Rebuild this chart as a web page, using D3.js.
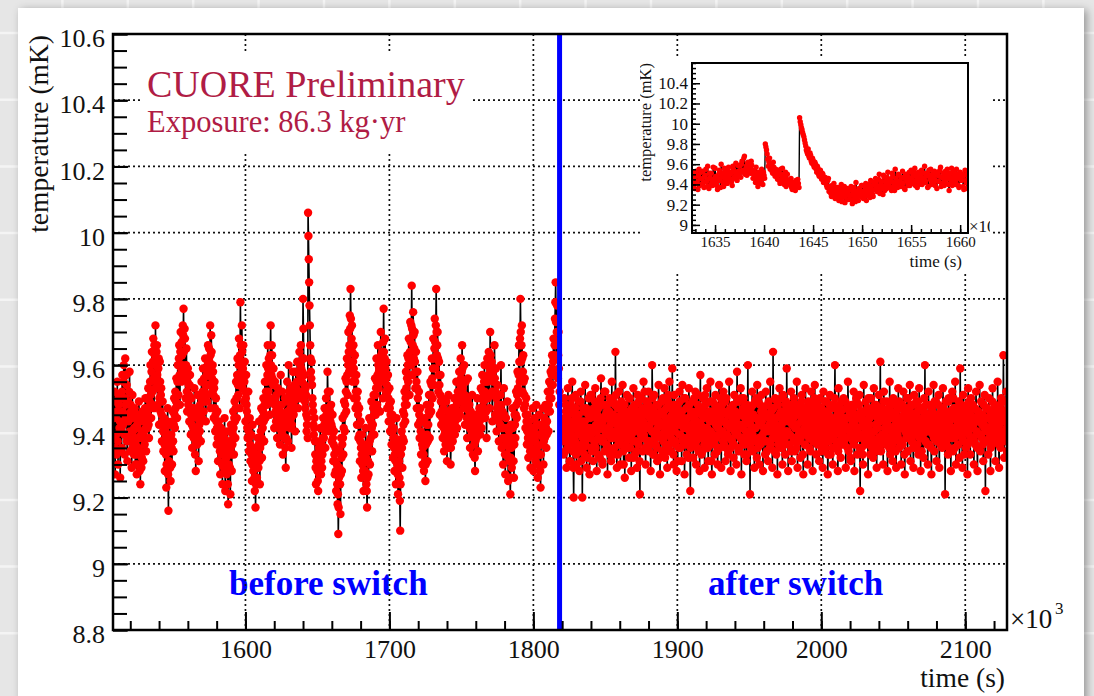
<!DOCTYPE html>
<html>
<head>
<meta charset="utf-8">
<script src="https://cdn.jsdelivr.net/npm/d3@7"></script>
<style>
  html, body { margin: 0; padding: 0; background: #e8e8e8; }
  svg { display: block; }
  text { font-family: "Liberation Serif", "Times New Roman", serif; }
</style>
</head>
<body>
<div id="chart"></div>
<script>
// ---- data (time in 10^3 s, temperature in mK) ----
const xMajorTicks = [1600, 1700, 1800, 1900, 2000, 2100];
const yMajorTicks = [8.8, 9, 9.2, 9.4, 9.6, 9.8, 10, 10.2, 10.4, 10.6];
const insetXTicks = [1635, 1640, 1645, 1650, 1655, 1660];
const insetYTicks = [9, 9.2, 9.4, 9.6, 9.8, 10, 10.2, 10.4];
const switchTime = 1818.2;

// sampling: "A" values sit on the grid, "B" values half a step later
const beforeStart = 1508.5, afterStart = 1820.5, sampleStep = 0.5;
const insetStart = 1632.5, insetStep = 0.125;

// temperature above 9 mK, in units of 0.01 mK
const beforeA = [
  38, 52, 27, 45, 33, 55, 30, 48, 41, 26, 50, 35, 57, 42, 60, 33, 62, 44, 54, 31,
  49, 38, 58, 34, 46, 29, 51, 40, 33, 47, 30, 44, 27, 41, 35, 49, 28, 24, 39, 32,
  46, 31, 43, 36, 50, 34, 47, 41, 53, 38, 49, 60, 44, 64, 52, 68, 47, 63, 72, 55,
  66, 48, 59, 42, 61, 46, 53, 37, 49, 34, 44, 28, 40, 23, 37, 47, 16, 31, 42, 25,
  39, 30, 46, 34, 50, 41, 47, 56, 44, 60, 51, 66, 48, 70, 55, 63, 72, 77, 58, 68,
  50, 65, 46, 59, 54, 43, 57, 39, 50, 35, 47, 38, 53, 33, 28, 45, 36, 51, 31, 42,
  48, 37, 55, 44, 59, 46, 52, 62, 43, 57, 49, 66, 54, 61, 72, 47, 64, 52, 58, 44,
  55, 40, 50, 36, 46, 31, 43, 38, 27, 41, 34, 24, 39, 29, 44, 22, 35, 27, 40, 18,
  30, 37, 21, 42, 28, 36, 46, 33, 49, 38, 55, 44, 62, 51, 68, 47, 79, 58, 72, 53,
  66, 49, 61, 43, 57, 46, 38, 52, 34, 44, 31, 39, 25, 42, 28, 35, 22, 17, 33, 26,
  38, 29, 43, 24, 36, 47, 32, 41, 50, 37, 55, 44, 60, 48, 66, 52, 58, 45, 72, 57,
  63, 49, 59, 41, 55, 46, 51, 38, 53, 42, 48, 36, 57, 40, 52, 33, 45, 38, 50, 29,
  43, 55, 37, 60, 46, 41, 53, 35, 49, 58, 45, 54, 40, 58, 50, 61, 47, 55, 64, 52,
  66, 50, 58, 80, 62, 54, 47, 51, 40, 44, 106, 92, 78, 66, 58, 61, 50, 46, 39, 44,
  33, 24, 37, 28, 22, 35, 30, 41, 27, 36, 33, 44, 38, 47, 35, 50, 42, 58, 45, 40,
  52, 43, 48, 37, 45, 31, 40, 27, 35, 22, 30, 18, 9, 26, 34, 15, 38, 28, 44, 33,
  49, 40, 56, 46, 62, 51, 70, 58, 75, 83, 61, 72, 55, 66, 50, 63, 47, 57, 42, 52,
  38, 47, 31, 43, 26, 39, 33, 22, 36, 28, 41, 24, 17, 35, 27, 44, 30, 38, 49, 34,
  42, 51, 39, 56, 45, 62, 48, 66, 53, 59, 46, 70, 55, 64, 50, 77, 58, 68, 52, 61,
  47, 57, 43, 53, 40, 49, 36, 45, 32, 41, 28, 38, 24, 44, 30, 21, 35, 26, 10, 33,
  40, 29, 46, 37, 52, 43, 58, 48, 63, 55, 68, 51, 73, 60, 84, 57, 76, 62, 70, 53,
  64, 47, 58, 42, 52, 38, 47, 33, 43, 30, 39, 28, 44, 25, 36, 48, 31, 42, 51, 38,
  55, 46, 62, 50, 68, 54, 74, 59, 83, 63, 70, 52, 61, 45, 57, 42, 50, 38, 47, 34,
  44, 36, 49, 31, 42, 51, 35, 45, 30, 40, 47, 37, 43, 50, 39, 46, 55, 41, 52, 44,
  58, 45, 62, 49, 66, 53, 47, 60, 42, 55, 50, 38, 56, 44, 48, 35, 46, 40, 51, 33,
  42, 36, 28, 45, 38, 50, 34, 43, 47, 39, 53, 41, 57, 46, 49, 60, 44, 55, 38, 62,
  50, 64, 47, 70, 56, 61, 43, 58, 52, 66, 45, 59, 40, 54, 48, 37, 51, 42, 60, 35,
  46, 30, 53, 38, 27, 44, 33, 49, 25, 40, 31, 21, 42, 29, 47, 36, 26, 45, 38, 52,
  44, 58, 49, 66, 55, 80, 61, 72, 52, 63, 47, 56, 41, 50, 36, 45, 32, 43, 39, 29,
  41, 34, 47, 28, 38, 44, 31, 48, 35, 26, 39, 45, 33, 23, 42, 36, 47, 30, 44, 38,
  48, 35, 43, 52, 40, 55, 46, 58, 50, 63, 54, 68, 57, 74, 85, 62, 78, 56, 70, 48
];
const beforeB = [
  44, 35, 49, 39, 46, 37, 51, 34, 43, 40, 41, 52, 46, 55, 39, 50, 48, 57, 37, 45,
  43, 52, 40, 48, 37, 44, 35, 46, 41, 38, 36, 33, 42, 30, 45, 38, 34, 43, 29, 40,
  38, 45, 40, 47, 41, 44, 50, 45, 42, 47, 55, 51, 58, 48, 61, 56, 66, 53, 60, 64,
  57, 53, 62, 50, 55, 51, 45, 43, 40, 42, 36, 39, 33, 30, 43, 27, 35, 38, 29, 34,
  35, 43, 37, 42, 45, 52, 49, 51, 55, 48, 62, 57, 64, 59, 67, 60, 69, 64, 71, 56,
  60, 52, 55, 48, 51, 54, 47, 45, 42, 44, 41, 47, 40, 36, 39, 41, 44, 38, 46, 40,
  43, 50, 46, 52, 50, 56, 49, 54, 59, 51, 60, 57, 65, 58, 63, 69, 56, 60, 51, 53,
  47, 45, 43, 41, 38, 40, 36, 34, 37, 33, 30, 36, 33, 38, 31, 28, 32, 34, 24, 29,
  34, 29, 35, 33, 40, 39, 41, 44, 43, 47, 50, 57, 54, 60, 56, 63, 66, 61, 64, 59,
  57, 55, 52, 50, 48, 41, 44, 40, 38, 36, 35, 33, 30, 34, 31, 26, 29, 24, 30, 32,
  33, 36, 31, 35, 40, 38, 44, 46, 43, 48, 50, 52, 55, 57, 59, 62, 50, 63, 60, 66,
  56, 54, 50, 48, 50, 43, 45, 48, 46, 45, 41, 46, 44, 48, 39, 42, 41, 44, 35, 38,
  49, 46, 50, 52, 44, 47, 44, 42, 53, 51, 49, 47, 51, 53, 55, 52, 58, 50, 57, 60,
  59, 55, 62, 71, 57, 49, 53, 45, 42, 38, 99, 85, 72, 62, 56, 54, 48, 42, 41, 37,
  29, 31, 32, 25, 30, 27, 34, 33, 31, 29, 38, 41, 42, 40, 44, 45, 47, 52, 43, 47,
  46, 45, 42, 41, 38, 36, 33, 31, 28, 27, 24, 21, 17, 29, 24, 27, 32, 36, 38, 41,
  45, 48, 52, 55, 57, 60, 64, 66, 71, 74, 68, 64, 61, 59, 57, 55, 52, 50, 48, 45,
  42, 39, 37, 35, 33, 30, 28, 31, 32, 34, 32, 22, 26, 31, 36, 37, 34, 43, 41, 39,
  47, 45, 48, 51, 53, 55, 57, 60, 58, 62, 57, 63, 60, 58, 67, 64, 62, 59, 56, 54,
  52, 50, 48, 47, 45, 43, 41, 40, 38, 35, 33, 31, 34, 36, 27, 29, 31, 19, 24, 37,
  35, 38, 42, 45, 48, 50, 53, 56, 60, 62, 60, 64, 67, 72, 71, 66, 69, 65, 61, 58,
  55, 53, 50, 47, 45, 43, 40, 38, 36, 35, 33, 36, 31, 30, 42, 39, 37, 46, 45, 48,
  51, 54, 56, 59, 62, 65, 67, 72, 70, 66, 62, 57, 54, 51, 49, 46, 44, 43, 41, 39,
  40, 43, 39, 37, 46, 43, 40, 38, 35, 44, 42, 40, 47, 45, 43, 50, 48, 46, 49, 51,
  52, 54, 56, 58, 59, 50, 55, 51, 49, 47, 44, 47, 50, 46, 41, 42, 43, 45, 42, 38,
  39, 32, 37, 41, 44, 42, 39, 45, 43, 46, 47, 50, 52, 47, 55, 52, 50, 46, 51, 55,
  57, 56, 59, 63, 60, 52, 51, 55, 59, 56, 52, 50, 47, 51, 43, 44, 46, 51, 48, 41,
  38, 41, 45, 33, 36, 38, 41, 37, 32, 35, 26, 32, 35, 38, 41, 31, 36, 42, 45, 48,
  51, 53, 57, 61, 68, 70, 66, 62, 58, 55, 51, 48, 45, 43, 40, 38, 37, 41, 34, 35,
  37, 40, 38, 33, 41, 37, 39, 42, 30, 33, 42, 39, 28, 33, 39, 41, 38, 37, 41, 43,
  41, 39, 47, 46, 48, 50, 52, 54, 57, 59, 61, 63, 66, 79, 73, 70, 67, 63, 59, 52
];

const afterA = [
  42, 33, 50, 38, 46, 29, 44, 53, 36, 41, 31, 48, 39, 55, 34, 20, 45, 37, 51, 30,
  43, 35, 49, 28, 40, 52, 36, 20, 47, 39, 33, 54, 41, 29, 46, 38, 50, 27, 44, 35,
  51, 40, 31, 47, 36, 53, 42, 28, 45, 38, 49, 32, 43, 56, 37, 30, 48, 41, 34, 52,
  39, 46, 27, 44, 35, 50, 42, 31, 55, 38, 45, 33, 48, 64, 40, 29, 47, 36, 52, 43,
  30, 49, 38, 54, 34, 42, 26, 46, 39, 51, 35, 44, 32, 50, 41, 28, 47, 37, 53, 40,
  33, 48, 43, 29, 51, 36, 45, 21, 39, 50, 42, 34, 55, 38, 46, 30, 49, 41, 35, 52,
  37, 44, 28, 47, 60, 40, 33, 51, 43, 36, 48, 31, 45, 54, 39, 27, 46, 42, 34, 50,
  38, 53, 32, 44, 41, 29, 49, 36, 55, 40, 34, 47, 59, 43, 30, 51, 37, 45, 28, 48,
  42, 35, 52, 39, 46, 31, 54, 38, 44, 27, 50, 41, 33, 47, 36, 53, 40, 22, 45, 37,
  49, 32, 44, 39, 52, 30, 46, 35, 51, 42, 28, 57, 38, 45, 34, 50, 41, 29, 48, 36,
  53, 40, 31, 46, 43, 55, 37, 27, 49, 39, 44, 33, 51, 38, 47, 30, 42, 54, 35, 45,
  29, 48, 40, 52, 36, 43, 31, 50, 39, 46, 34, 55, 41, 28, 47, 37, 44, 32, 51, 40,
  45, 30, 58, 39, 49, 35, 42, 53, 27, 46, 38, 50, 33, 44, 40, 31, 48, 60, 43, 36,
  21, 47, 39, 52, 34, 45, 29, 49, 41, 37, 54, 35, 43, 30, 48, 38, 51, 44, 28, 46,
  40, 33, 52, 37, 45, 31, 49, 42, 55, 36, 47, 29, 64, 41, 34, 50, 38, 44, 27, 48,
  39, 53, 35, 46, 42, 30, 51, 37, 45, 33, 49, 59, 40, 28, 47, 36, 43, 52, 31, 44,
  38, 50, 34, 46, 41, 55, 29, 45, 37, 48, 32, 43, 51, 39, 27, 47, 36, 53, 40, 44,
  30, 49, 38, 45, 34, 52, 42, 28, 46, 37, 54, 41, 33, 48, 39, 44, 31, 50, 36, 47,
  43, 29, 52, 38, 46, 35, 49, 40, 27, 45, 37, 51, 33, 44, 41, 30, 48, 39, 60, 42,
  35, 47, 28, 53, 40, 45, 32, 49, 38, 43, 50, 36, 44, 29, 47, 41, 55, 34, 46, 39,
  31, 48, 42, 37, 52, 28, 45, 40, 49, 33, 44, 38, 51, 22, 46, 35, 43, 30, 54, 41,
  36, 49, 39, 47, 27, 45, 42, 33, 50, 38, 46, 32, 53, 40, 35, 48, 29, 44, 37, 51,
  43, 61, 34, 47, 39, 30, 52, 41, 45, 36, 49, 28, 44, 38, 55, 33, 46, 40, 31, 50,
  37, 45, 42, 29, 48, 39, 53, 35, 44, 41, 30, 47, 36, 52, 43, 27, 46, 38, 50, 34,
  45, 40, 54, 31, 48, 37, 44, 29, 51, 42, 35, 49, 39, 46, 33, 53, 41, 28, 47, 38,
  44, 32, 50, 60, 37, 45, 40, 30, 52, 36, 48, 41, 27, 46, 39, 54, 34, 43, 49, 31,
  42, 37, 51, 29, 45, 40, 47, 35, 53, 38, 44, 21, 49, 36, 42, 33, 50, 39, 46, 28,
  41, 52, 34, 47, 38, 55, 30, 45, 43, 36, 49, 32, 59, 40, 46, 29, 51, 37, 44, 42,
  35, 48, 27, 53, 39, 45, 33, 50, 41, 38, 47, 30, 44, 36, 52, 40, 28, 46, 43, 54,
  34, 49, 38, 45, 31, 42, 51, 22, 47, 37, 44, 33, 50, 40, 28, 46, 36, 53, 42, 39,
  48, 31, 45, 37, 55, 41, 29, 47, 35, 50, 43, 38, 63, 32, 46, 40, 52, 34, 44, 39
];
const afterB = [
  37, 44, 40, 34, 48, 39, 35, 45, 42, 31, 46, 38, 50, 43, 29, 36, 41, 47, 33, 44,
  39, 45, 34, 42, 49, 31, 43, 38, 35, 46, 43, 36, 47, 40, 32, 45, 38, 41, 51, 39,
  34, 46, 41, 37, 49, 35, 44, 40, 33, 47, 42, 38, 50, 44, 31, 43, 37, 52, 40, 45,
  36, 48, 39, 41, 46, 33, 38, 45, 43, 49, 40, 35, 44, 51, 38, 42, 33, 47, 41, 36,
  45, 39, 43, 47, 30, 48, 40, 36, 44, 42, 38, 50, 41, 35, 46, 39, 43, 32, 45, 48,
  41, 37, 34, 46, 42, 49, 31, 44, 40, 38, 47, 43, 39, 52, 35, 41, 45, 37, 48, 34,
  42, 36, 45, 40, 50, 33, 46, 39, 38, 44, 35, 41, 48, 43, 32, 45, 38, 49, 42, 37,
  46, 40, 36, 47, 34, 43, 51, 39, 44, 41, 38, 45, 42, 33, 48, 40, 36, 47, 43, 31,
  44, 39, 49, 35, 42, 46, 37, 41, 50, 36, 43, 47, 38, 44, 32, 48, 40, 35, 46, 42,
  39, 36, 50, 41, 45, 37, 43, 48, 34, 40, 46, 42, 33, 47, 39, 44, 36, 51, 38, 45,
  41, 35, 44, 38, 49, 40, 31, 46, 43, 37, 36, 48, 42, 45, 34, 41, 47, 39, 44, 50,
  40, 43, 37, 46, 39, 49, 35, 42, 45, 33, 45, 38, 47, 35, 43, 41, 48, 36, 40, 46,
  39, 44, 49, 42, 34, 45, 38, 50, 41, 37, 47, 42, 36, 48, 44, 33, 46, 40, 38, 43,
  42, 35, 45, 39, 48, 41, 37, 44, 50, 32, 44, 49, 38, 42, 36, 46, 43, 39, 47, 41,
  37, 45, 41, 34, 48, 40, 44, 35, 43, 46, 43, 38, 47, 44, 39, 42, 33, 49, 41, 36,
  45, 41, 37, 50, 35, 43, 46, 40, 38, 48, 40, 46, 43, 36, 44, 39, 48, 34, 42, 45,
  44, 37, 41, 48, 35, 42, 47, 39, 46, 40, 38, 49, 45, 33, 43, 41, 36, 47, 44, 39,
  46, 41, 35, 42, 48, 38, 44, 37, 40, 50, 39, 44, 47, 36, 43, 40, 45, 38, 42, 34,
  41, 36, 45, 49, 39, 43, 37, 46, 33, 42, 48, 40, 38, 44, 35, 47, 42, 50, 41, 37,
  43, 45, 34, 41, 48, 39, 46, 36, 44, 40, 37, 42, 49, 38, 44, 35, 47, 41, 45, 32,
  46, 39, 43, 47, 36, 42, 38, 50, 40, 44, 41, 48, 35, 45, 39, 44, 33, 46, 42, 37,
  43, 38, 46, 41, 50, 36, 44, 39, 47, 35, 40, 45, 37, 48, 42, 34, 46, 41, 38, 43,
  47, 36, 44, 39, 45, 49, 37, 43, 40, 46, 38, 42, 47, 35, 41, 44, 48, 36, 45, 39,
  44, 40, 34, 46, 43, 38, 41, 49, 37, 42, 36, 48, 41, 45, 33, 40, 47, 39, 44, 50,
  42, 38, 46, 43, 37, 45, 35, 48, 41, 39, 45, 43, 36, 49, 40, 38, 47, 42, 34, 44,
  39, 46, 41, 37, 48, 43, 36, 45, 40, 42, 44, 35, 47, 40, 43, 38, 49, 41, 45, 37,
  41, 48, 39, 44, 36, 46, 42, 38, 47, 43, 46, 40, 37, 45, 42, 49, 35, 43, 39, 44,
  38, 44, 50, 41, 35, 47, 40, 46, 42, 36, 43, 39, 45, 48, 38, 42, 44, 33, 47, 41,
  40, 46, 36, 43, 49, 37, 45, 41, 38, 48, 42, 37, 47, 44, 40, 35, 46, 39, 43, 45,
  39, 45, 42, 36, 48, 41, 37, 44, 40, 47, 44, 41, 38, 46, 35, 43, 49, 40, 45, 37,
  41, 47, 43, 39, 44, 36, 42, 48, 38, 46, 45, 40, 46, 37, 43, 49, 41, 38, 47, 42
];

const insetA = [
  59, 44, 38, 52, 41, 48, 35, 55, 46, 40, 53, 37, 49, 43, 58, 36, 47, 51, 39, 45,
  56, 42, 35, 50, 44, 60, 47, 38, 53, 49, 41, 57, 46, 52, 39, 55, 48, 61, 44, 53,
  58, 47, 63, 52, 68, 55, 49, 62, 57, 51, 59, 46, 53, 42, 50, 38, 47, 44, 55, 40,
  49, 80, 74, 65, 62, 55, 60, 51, 57, 48, 54, 45, 52, 41, 49, 56, 43, 47, 38, 50,
  44, 40, 46, 35, 36, 40, 44, 38, 41, 106, 99, 94, 89, 84, 78, 72, 75, 66, 69, 61,
  64, 57, 60, 52, 56, 48, 54, 45, 50, 43, 47, 39, 44, 33, 38, 28, 35, 41, 26, 32,
  37, 24, 30, 40, 27, 34, 22, 31, 36, 25, 29, 38, 21, 33, 27, 42, 30, 24, 35, 28,
  39, 26, 32, 41, 29, 36, 31, 44, 34, 28, 40, 46, 33, 38, 50, 35, 43, 30, 47, 39,
  36, 52, 41, 45, 34, 48, 38, 55, 42, 37, 49, 44, 40, 53, 46, 35, 50, 43, 47, 39,
  54, 45, 41, 56, 48, 37, 52, 44, 50, 40, 46, 58, 43, 51, 38, 49, 55, 42, 47, 53,
  44, 36, 51, 48, 57, 41, 46, 39, 53, 45, 50, 34, 47, 56, 43, 49, 40, 55, 46, 37,
  52, 44, 48, 35, 54, 42, 49, 38, 46, 41
];
const insetB = [
  50, 41, 47, 36, 53, 43, 49, 39, 52, 45, 42, 48, 55, 38, 45, 51, 40, 44, 57, 41,
  48, 39, 46, 54, 37, 51, 42, 56, 44, 47, 53, 45, 50, 43, 58, 46, 52, 49, 59, 48,
  52, 60, 54, 66, 50, 58, 61, 53, 56, 63, 54, 50, 48, 57, 45, 52, 41, 49, 45, 52,
  46, 77, 70, 58, 66, 59, 53, 62, 52, 55, 48, 51, 44, 55, 46, 50, 40, 52, 45, 43,
  41, 43, 37, 42, 39, 34, 41, 45, 37, 102, 96, 91, 87, 81, 74, 70, 68, 71, 63, 66,
  59, 62, 55, 58, 50, 53, 47, 51, 42, 46, 41, 37, 46, 35, 31, 39, 33, 29, 37, 30,
  33, 27, 35, 23, 31, 38, 29, 25, 34, 30, 35, 25, 30, 37, 23, 33, 28, 36, 31, 39,
  33, 29, 37, 24, 34, 40, 27, 38, 30, 42, 35, 42, 38, 45, 31, 41, 37, 49, 34, 43,
  47, 39, 44, 37, 51, 42, 34, 46, 40, 50, 43, 38, 47, 41, 36, 49, 44, 39, 52, 45,
  41, 49, 52, 39, 44, 50, 40, 47, 54, 43, 51, 42, 48, 37, 54, 45, 40, 50, 44, 39,
  49, 52, 43, 54, 38, 47, 51, 42, 48, 55, 40, 51, 44, 39, 53, 46, 42, 50, 39, 48,
  45, 50, 38, 49, 44, 36, 52, 43, 51, 40
];

// ---- page ----
const width = 1094;
const height = 696;
const serif = "'Liberation Serif', 'Times New Roman', serif";

const svg = d3.select("#chart")
  .append("svg")
  .attr("width", width)
  .attr("height", height);

const defs = svg.append("defs");
defs.append("filter")
  .attr("id", "shadow")
  .attr("x", "-5%").attr("y", "-5%").attr("width", "110%").attr("height", "110%")
  .append("feDropShadow")
  .attr("dx", 3).attr("dy", 2)
  .attr("stdDeviation", 4)
  .attr("flood-color", "#000")
  .attr("flood-opacity", 0.35);

// slide background with faint squares
svg.append("rect").attr("width", width).attr("height", height).attr("fill", "#e6e6e6");
const paper = svg.append("g").attr("stroke", "#f4f4f4").attr("stroke-width", 2.5);
d3.range(-3, width, 65.4).forEach(px => {
  paper.append("line").attr("x1", px).attr("x2", px).attr("y1", 0).attr("y2", height);
});
d3.range(33, height, 66.7).forEach(py => {
  paper.append("line").attr("x1", 0).attr("x2", width).attr("y1", py).attr("y2", py);
});

svg.append("rect")
  .attr("x", 18).attr("y", 8)
  .attr("width", 1066).attr("height", 720)
  .attr("fill", "#fff")
  .attr("filter", "url(#shadow)");

// ---- main plot ----
const frame = { left: 113, top: 34, right: 1007, bottom: 630 };

const x = d3.scaleLinear().domain([1508, 2129]).range([frame.left, frame.right]);
const y = d3.scaleLinear().domain([8.8, 10.6]).range([frame.bottom, frame.top]);

defs.append("clipPath").attr("id", "mainClip")
  .append("rect")
  .attr("x", frame.left).attr("y", frame.top)
  .attr("width", frame.right - frame.left).attr("height", frame.bottom - frame.top);

// labels under the grid
svg.append("text")
  .attr("x", 229).attr("y", 595)
  .attr("font-size", 35).attr("font-weight", "bold").attr("fill", "#0000ff")
  .text("before switch");
svg.append("text")
  .attr("x", 708).attr("y", 595)
  .attr("font-size", 35).attr("font-weight", "bold").attr("fill", "#0000ff")
  .text("after switch");

// dotted grid
const grid = svg.append("g")
  .attr("stroke", "#111")
  .attr("stroke-width", 1.7)
  .attr("stroke-dasharray", "2,3");
grid.selectAll(".gx")
  .data(xMajorTicks)
  .enter().append("line")
  .attr("class", "gx")
  .attr("x1", d => x(d)).attr("x2", d => x(d))
  .attr("y1", frame.top).attr("y2", frame.bottom);
grid.selectAll(".gy")
  .data(yMajorTicks.filter(d => d > 8.8 && d < 10.6))
  .enter().append("line")
  .attr("class", "gy")
  .attr("x1", frame.left).attr("x2", frame.right)
  .attr("y1", d => y(d)).attr("y2", d => y(d));

// series: merge the on-grid and half-step readings in time order
function toPoints(a, b, start, step) {
  const pts = [];
  a.forEach((v, i) => {
    pts.push({ t: start + step * i, v: 9 + v / 100 });
    if (i < b.length) pts.push({ t: start + step * (i + 0.5), v: 9 + b[i] / 100 });
  });
  return pts;
}

const beforePoints = toPoints(beforeA, beforeB, beforeStart, sampleStep);
const afterPoints = toPoints(afterA, afterB, afterStart, sampleStep);

const plot = svg.append("g").attr("clip-path", "url(#mainClip)");
const mainLine = d3.line().x(d => x(d.t)).y(d => y(d.v));

[beforePoints, afterPoints].forEach(pts => {
  plot.append("path")
    .datum(pts)
    .attr("fill", "none")
    .attr("stroke", "#000")
    .attr("stroke-width", 1.6)
    .attr("d", mainLine);
});
[beforePoints, afterPoints].forEach(pts => {
  plot.append("g")
    .selectAll("circle")
    .data(pts)
    .enter().append("circle")
    .attr("cx", d => x(d.t))
    .attr("cy", d => y(d.v))
    .attr("r", 4.2)
    .attr("fill", "#ff0000");
});

// switch marker
svg.append("line")
  .attr("x1", x(switchTime)).attr("x2", x(switchTime))
  .attr("y1", frame.top).attr("y2", frame.bottom)
  .attr("stroke", "#0000ff")
  .attr("stroke-width", 5);

// axes (ticks inside the frame, ROOT style)
const yMinor = d3.range(0, 37).map(k => 8.8 + k * 0.05);
const xMinor = d3.range(1520, 2129, 20);

function styleAxis(g) {
  g.select(".domain").remove();
  g.selectAll(".tick line").attr("stroke", "#000").attr("stroke-width", 2);
  g.selectAll(".tick text").attr("fill", "#111");
}

svg.append("g")
  .attr("transform", `translate(${frame.left},0)`)
  .call(d3.axisLeft(y).tickValues(yMinor).tickSize(-14).tickFormat(""))
  .call(styleAxis);
svg.append("g")
  .attr("transform", `translate(${frame.left},0)`)
  .call(d3.axisLeft(y).tickValues(yMajorTicks).tickSize(-15).tickPadding(8)
    .tickFormat(d => String(+d.toFixed(1))))
  .call(styleAxis)
  .call(g => g.selectAll(".tick text")
    .attr("font-size", 26)
    .attr("dy", "0.49em"));

svg.append("g")
  .attr("transform", `translate(0,${frame.bottom})`)
  .call(d3.axisBottom(x).tickValues(xMinor).tickSize(-9).tickFormat(""))
  .call(styleAxis);
svg.append("g")
  .attr("transform", `translate(0,${frame.bottom})`)
  .call(d3.axisBottom(x).tickValues(xMajorTicks).tickSize(-18).tickPadding(9.5)
    .tickFormat(d3.format("d")))
  .call(styleAxis)
  .call(g => g.selectAll(".tick text").attr("font-size", 26));

svg.append("rect")
  .attr("x", frame.left).attr("y", frame.top)
  .attr("width", frame.right - frame.left).attr("height", frame.bottom - frame.top)
  .attr("fill", "none")
  .attr("stroke", "#000")
  .attr("stroke-width", 2.5);

// axis titles
svg.append("text")
  .attr("x", 1005).attr("y", 687)
  .attr("text-anchor", "end")
  .attr("font-size", 27.5).attr("fill", "#111")
  .text("time (s)");
svg.append("text")
  .attr("transform", "translate(48,35) rotate(-90)")
  .attr("text-anchor", "end")
  .attr("font-size", 27.5).attr("fill", "#111")
  .text("temperature (mK)");
svg.append("text")
  .attr("x", 1010).attr("y", 628)
  .attr("font-size", 27).attr("fill", "#111")
  .text("×10");
svg.append("text")
  .attr("x", 1055).attr("y", 614)
  .attr("font-size", 17).attr("fill", "#111")
  .text("3");

// CUORE label box
svg.append("rect")
  .attr("x", 140).attr("y", 53).attr("width", 330).attr("height", 100)
  .attr("fill", "#fff");
svg.append("text")
  .attr("x", 147).attr("y", 97)
  .attr("font-size", 38).attr("fill", "#b01c45")
  .text("CUORE Preliminary");
svg.append("text")
  .attr("x", 147).attr("y", 132)
  .attr("font-size", 30.5).attr("fill", "#b01c45")
  .text("Exposure: 86.3 kg·yr");

// ---- inset ----
const pad = { left: 640, top: 57, right: 990, bottom: 273 };
const inFrame = { left: 692, top: 63, right: 968, bottom: 233 };

defs.append("clipPath").attr("id", "padClip")
  .append("rect")
  .attr("x", pad.left).attr("y", pad.top)
  .attr("width", pad.right - pad.left).attr("height", pad.bottom - pad.top);
defs.append("clipPath").attr("id", "insetClip")
  .append("rect")
  .attr("x", inFrame.left).attr("y", inFrame.top)
  .attr("width", inFrame.right - inFrame.left).attr("height", inFrame.bottom - inFrame.top);

const inset = svg.append("g").attr("clip-path", "url(#padClip)");
inset.append("rect")
  .attr("x", pad.left).attr("y", pad.top)
  .attr("width", pad.right - pad.left).attr("height", pad.bottom - pad.top)
  .attr("fill", "#fff");

const xi = d3.scaleLinear().domain([1632.65, 1660.8]).range([inFrame.left, inFrame.right]);
const yi = d3.scaleLinear().domain([8.92, 10.6]).range([inFrame.bottom, inFrame.top]);

const insetPoints = toPoints(insetA, insetB, insetStart, insetStep);
const insetPlot = inset.append("g").attr("clip-path", "url(#insetClip)");
insetPlot.append("path")
  .datum(insetPoints)
  .attr("fill", "none")
  .attr("stroke", "#000")
  .attr("stroke-width", 1.4)
  .attr("d", d3.line().x(d => xi(d.t)).y(d => yi(d.v)));
insetPlot.append("g")
  .selectAll("circle")
  .data(insetPoints)
  .enter().append("circle")
  .attr("cx", d => xi(d.t))
  .attr("cy", d => yi(d.v))
  .attr("r", 2.7)
  .attr("fill", "#ff0000");

const yiMinor = d3.range(0, 34).map(k => 8.95 + k * 0.05);
const xiMinor = d3.range(1633, 1661, 1);

inset.append("g")
  .attr("transform", `translate(${inFrame.left},0)`)
  .call(d3.axisLeft(yi).tickValues(yiMinor).tickSize(-4).tickFormat(""))
  .call(styleAxis)
  .call(g => g.selectAll(".tick line").attr("stroke-width", 1.5));
inset.append("g")
  .attr("transform", `translate(${inFrame.left},0)`)
  .call(d3.axisLeft(yi).tickValues(insetYTicks).tickSize(-8).tickPadding(4)
    .tickFormat(d => String(+d.toFixed(1))))
  .call(styleAxis)
  .call(g => g.selectAll(".tick line").attr("stroke-width", 1.5))
  .call(g => g.selectAll(".tick text").attr("font-size", 17));

inset.append("g")
  .attr("transform", `translate(0,${inFrame.bottom})`)
  .call(d3.axisBottom(xi).tickValues(xiMinor).tickSize(-4).tickFormat(""))
  .call(styleAxis)
  .call(g => g.selectAll(".tick line").attr("stroke-width", 1.5));
inset.append("g")
  .attr("transform", `translate(0,${inFrame.bottom})`)
  .call(d3.axisBottom(xi).tickValues(insetXTicks).tickSize(-8).tickPadding(3.5)
    .tickFormat(d3.format("d")))
  .call(styleAxis)
  .call(g => g.selectAll(".tick line").attr("stroke-width", 1.5))
  .call(g => g.selectAll(".tick text").attr("font-size", 15));

inset.append("rect")
  .attr("x", inFrame.left).attr("y", inFrame.top)
  .attr("width", inFrame.right - inFrame.left).attr("height", inFrame.bottom - inFrame.top)
  .attr("fill", "none")
  .attr("stroke", "#000")
  .attr("stroke-width", 2);

inset.append("text")
  .attr("x", 962).attr("y", 267)
  .attr("text-anchor", "end")
  .attr("font-size", 17).attr("fill", "#111")
  .text("time (s)");
inset.append("text")
  .attr("transform", "translate(651,63) rotate(-90)")
  .attr("text-anchor", "end")
  .attr("font-size", 16.5).attr("fill", "#111")
  .text("temperature (mK)");
inset.append("text")
  .attr("x", 969).attr("y", 232)
  .attr("font-size", 17).attr("fill", "#111")
  .text("×10");

// every label in Times-like serif
svg.selectAll("text").style("font-family", serif);
</script>
</body>
</html>
